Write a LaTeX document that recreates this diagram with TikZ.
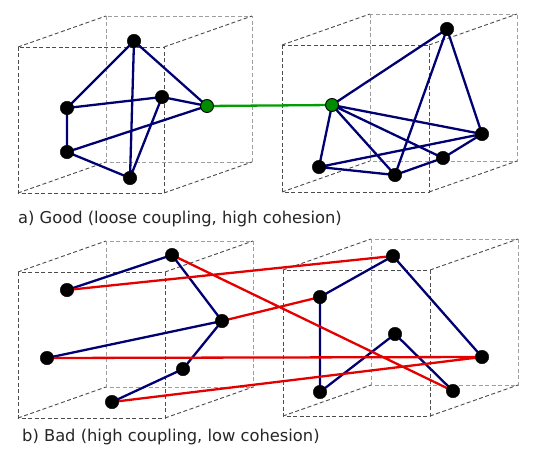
\documentclass[tikz,border=0pt]{standalone}
\usepackage{fontspec}
\setmainfont{DejaVu Sans}
\begin{document}
\begin{tikzpicture}[x=1pt,y=-1pt,
  frontface/.style={draw=black!70,line width=0.9pt,dash pattern=on 4pt off 2.5pt},
  backface/.style={draw=black!38,line width=0.9pt,dash pattern=on 4pt off 2.5pt},
  vtx/.style={circle,fill=black,draw=black,inner sep=0pt,minimum size=13.5pt},
  gvtx/.style={circle,fill=green!55!black,draw=black,line width=0.9pt,inner sep=0pt,minimum size=13pt},
  blueedge/.style={draw=blue!45!black,line width=2.3pt},
  rededge/.style={draw=red!90!black,line width=2.3pt},
  greenedge/.style={draw=green!62!black,line width=2.3pt},
  caption/.style={anchor=west,inner sep=0pt,font=\fontsize{16.3}{19}\selectfont,text=black!85}]
\useasboundingbox (0,0) rectangle (537,468);
\fill[white] (0,0) rectangle (537,468);
\newcommand{\mycube}[4]{% front left, top, right, bottom ; back offset (88,-31)
  \draw[backface] (#1+88,#2-31) rectangle (#3+88,#4-31);
  \draw[frontface] (#1,#2) -- (#1+88,#2-31);
  \draw[frontface] (#3,#2) -- (#3+88,#2-31);
  \draw[frontface] (#1,#4) -- (#1+88,#4-31);
  \draw[frontface] (#3,#4) -- (#3+88,#4-31);
  \draw[frontface] (#1,#2) rectangle (#3,#4);
}
\mycube{18}{47}{164}{193}
\mycube{282}{45}{429}{192}
\mycube{18}{272}{165}{418}
\mycube{283}{270}{430}{416}
% top-left nodes
\coordinate (A) at (134,41);
\coordinate (B) at (162,97);
\coordinate (C) at (67,108);
\coordinate (D) at (67,152);
\coordinate (E) at (130,178);
\coordinate (G1) at (207,106);
% top-right nodes
\coordinate (P) at (447,29);
\coordinate (G2) at (332,105);
\coordinate (Q) at (482,134);
\coordinate (R) at (443,158);
\coordinate (S) at (395,175);
\coordinate (T) at (319,167);
% bottom-left nodes
\coordinate (a) at (172,255);
\coordinate (b) at (67,290);
\coordinate (c) at (222,321);
\coordinate (d) at (47,358);
\coordinate (e) at (183,369);
\coordinate (f) at (112,402);
% bottom-right nodes
\coordinate (p) at (393,256);
\coordinate (q) at (320,297);
\coordinate (r) at (395,334);
\coordinate (s) at (482,357);
\coordinate (t) at (320,392);
\coordinate (u) at (453,391);
% edges
\draw[blueedge] (A)--(C) (A)--(E) (A)--(G1)
  (C)--(B) (C)--(D) (B)--(G1) (B)--(E)
  (D)--(G1) (D)--(E);
\draw[blueedge] (G2)--(P) (P)--(S) (P)--(Q)
  (G2)--(Q) (G2)--(R) (G2)--(S) (G2)--(T)
  (T)--(Q) (T)--(S) (S)--(R) (R)--(Q);
\draw[greenedge] (G1)--(G2);
\draw[blueedge] (b)--(a) (a)--(c) (c)--(d)
  (c)--(e) (e)--(f)
  (p)--(q) (q)--(t) (t)--(r) (r)--(u) (p)--(s);
\draw[rededge] (b)--(p) (a)--(u) (c)--(q)
  (d)--(s) (f)--(s);
% nodes on top
\foreach \n in {A,B,C,D,E,P,Q,R,S,T,a,b,c,d,e,f,p,q,r,s,t,u}{\node[vtx] (n\n) at (\n) {};}
\foreach \n in {G1,G2}{\node[gvtx] (n\n) at (\n) {};}
\node[caption] (capa) at (18,219) {a) Good (loose coupling, high cohesion)};
\node[caption] (capb) at (22,437) {b) Bad (high coupling, low cohesion)};
\end{tikzpicture}
\end{document}
